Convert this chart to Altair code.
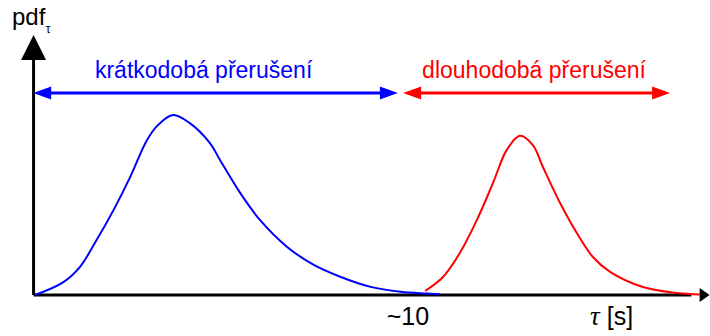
import altair as alt
import pandas as pd

# Density of short interruptions (blue) and long interruptions (red), tau in s
blue_tau = [0, 0.75, 1.2, 1.65, 2.1, 2.55, 3.0, 3.3, 3.7, 4.15, 4.69, 4.96, 5.5,
            6.03, 6.76, 7.45, 8.2, 9.0, 9.8, 10.5, 10.85]
blue_pdf = [0, 0.07, 0.155, 0.305, 0.47, 0.655, 0.86, 0.945, 1.0, 0.955, 0.844,
            0.75, 0.567, 0.417, 0.267, 0.17, 0.10, 0.045, 0.018, 0.008, 0.004]
red_tau = [10.46, 10.94, 11.39, 11.85, 12.28, 12.65, 13.0, 13.35, 13.62, 14.08,
           14.53, 14.96, 15.42, 16.3, 17.21, 17.83]
red_pdf = [0.022, 0.10, 0.233, 0.417, 0.622, 0.806, 0.885, 0.833, 0.711, 0.511,
           0.344, 0.211, 0.128, 0.044, 0.011, 0.003]

# Range brackets for the two classes of interruption
range_names = ["krátkodobá přerušení", "dlouhodobá přerušení"]
range_start = [-0.05, 9.87]
range_end = [9.73, 17.03]
range_label_x = [4.52, 13.38]
range_colors = ["#0000ff", "#ff0000"]
RANGE_LEVEL = 1.122
LABEL_LEVEL = 1.208

# Axis extents
AXIS_X_END = 18.09
AXIS_Y_END = 1.444
AXIS_ORIGIN = -0.04
TICK_VALUE = 10

X_DOMAIN = [-0.94, 18.1]
Y_DOMAIN = [-0.228, 1.639]
W, H = 710, 336
FONT = "Liberation Sans"


def X(field):
    return alt.X(field, type="quantitative",
                 scale=alt.Scale(domain=X_DOMAIN, nice=False, zero=False), axis=None)


def Y(field):
    return alt.Y(field, type="quantitative",
                 scale=alt.Scale(domain=Y_DOMAIN, nice=False, zero=False), axis=None)


curves = pd.concat([
    pd.DataFrame({"tau": blue_tau, "pdf": blue_pdf, "group": "short"}),
    pd.DataFrame({"tau": red_tau, "pdf": red_pdf, "group": "long"}),
])

# axis lines
axes_df = pd.DataFrame({
    "x": [AXIS_ORIGIN, AXIS_ORIGIN], "x2": [17.6, AXIS_ORIGIN],
    "y": [0, 0], "y2": [0, 1.32],
})
axis_lines = alt.Chart(axes_df).mark_rule(color="black", strokeWidth=3).encode(
    x=X("x"), x2="x2", y=Y("y"), y2="y2")

y_head = alt.Chart(pd.DataFrame({"x": [AXIS_ORIGIN], "y": [AXIS_Y_END]})).mark_point(
    shape="M0,0L-1,2L1,2Z", size=625, filled=True, color="black", opacity=1,
    strokeWidth=0).encode(x=X("x"), y=Y("y"))
x_head = alt.Chart(pd.DataFrame({"x": [AXIS_X_END], "y": [0]})).mark_point(
    shape="M0,0L-1.43,-1L-1.43,1Z", size=196, filled=True, color="black", opacity=1,
    strokeWidth=0).encode(x=X("x"), y=Y("y"))

# range brackets with arrowheads on both ends
ranges = pd.DataFrame({"name": range_names, "start": range_start, "end": range_end,
                       "lx": range_label_x, "color": range_colors,
                       "level": RANGE_LEVEL, "ly": LABEL_LEVEL})
ranges["lstart"] = ranges["start"] + 0.3
ranges["lend"] = ranges["end"] - 0.3

range_lines = alt.Chart(ranges).mark_rule(strokeWidth=3).encode(
    x=X("lstart"), x2="lend", y=Y("level"),
    color=alt.Color("color:N", scale=None))
left_heads = alt.Chart(ranges).mark_point(
    shape="M0,0L2,-0.72L2,0.72Z", size=324, filled=True, opacity=1, strokeWidth=0
).encode(x=X("start"), y=Y("level"), color=alt.Color("color:N", scale=None))
right_heads = alt.Chart(ranges).mark_point(
    shape="M0,0L-2,-0.72L-2,0.72Z", size=324, filled=True, opacity=1, strokeWidth=0
).encode(x=X("end"), y=Y("level"), color=alt.Color("color:N", scale=None))

range_labels = alt.Chart(ranges).mark_text(
    font=FONT, fontSize=23, align="center", baseline="alphabetic"
).encode(x=X("lx"), y=Y("ly"), text="name:N", color=alt.Color("color:N", scale=None))

lines = alt.Chart(curves).mark_line(strokeWidth=2, interpolate="catmull-rom").encode(
    x=X("tau"), y=Y("pdf"),
    color=alt.Color("group:N", scale=alt.Scale(domain=["short", "long"],
                                               range=["#0000ff", "#ff0000"]), legend=None),
    detail="group:N")

# axis texts
tick_label = alt.Chart(pd.DataFrame({"x": [TICK_VALUE], "y": [-0.167], "t": ["~10"]})).mark_text(
    font=FONT, fontSize=25, align="center", baseline="alphabetic", color="black"
).encode(x=X("x"), y=Y("y"), text="t:N")
tau_label = alt.Chart(pd.DataFrame({"x": [15.01], "y": [-0.167], "t": ["τ"]})).mark_text(
    font="Liberation Serif", fontSize=27, fontStyle="italic", align="center",
    baseline="alphabetic", color="black").encode(x=X("x"), y=Y("y"), text="t:N")
unit_label = alt.Chart(pd.DataFrame({"x": [15.33], "y": [-0.167], "t": ["[s]"]})).mark_text(
    font=FONT, fontSize=25, align="left", baseline="alphabetic", color="black"
).encode(x=X("x"), y=Y("y"), text="t:N")
pdf_label = alt.Chart(pd.DataFrame({"x": [-0.62], "y": [1.5], "t": ["pdf"]})).mark_text(
    font=FONT, fontSize=24, align="left", baseline="alphabetic", color="black"
).encode(x=X("x"), y=Y("y"), text="t:N")
pdf_sub = alt.Chart(pd.DataFrame({"x": [0.35], "y": [1.456], "t": ["τ"]})).mark_text(
    font=FONT, fontSize=12, align="center", baseline="alphabetic", color="black"
).encode(x=X("x"), y=Y("y"), text="t:N")

chart = alt.layer(
    axis_lines, y_head, x_head, range_lines, left_heads, right_heads, range_labels,
    lines, tick_label, tau_label, unit_label, pdf_label, pdf_sub
).properties(
    width=W, height=H, autosize=alt.AutoSizeParams(type="none"), padding=0,
    background="white"
).configure_view(stroke=None)

chart.save("out.html", embed_options={"renderer": "svg", "actions": False})
